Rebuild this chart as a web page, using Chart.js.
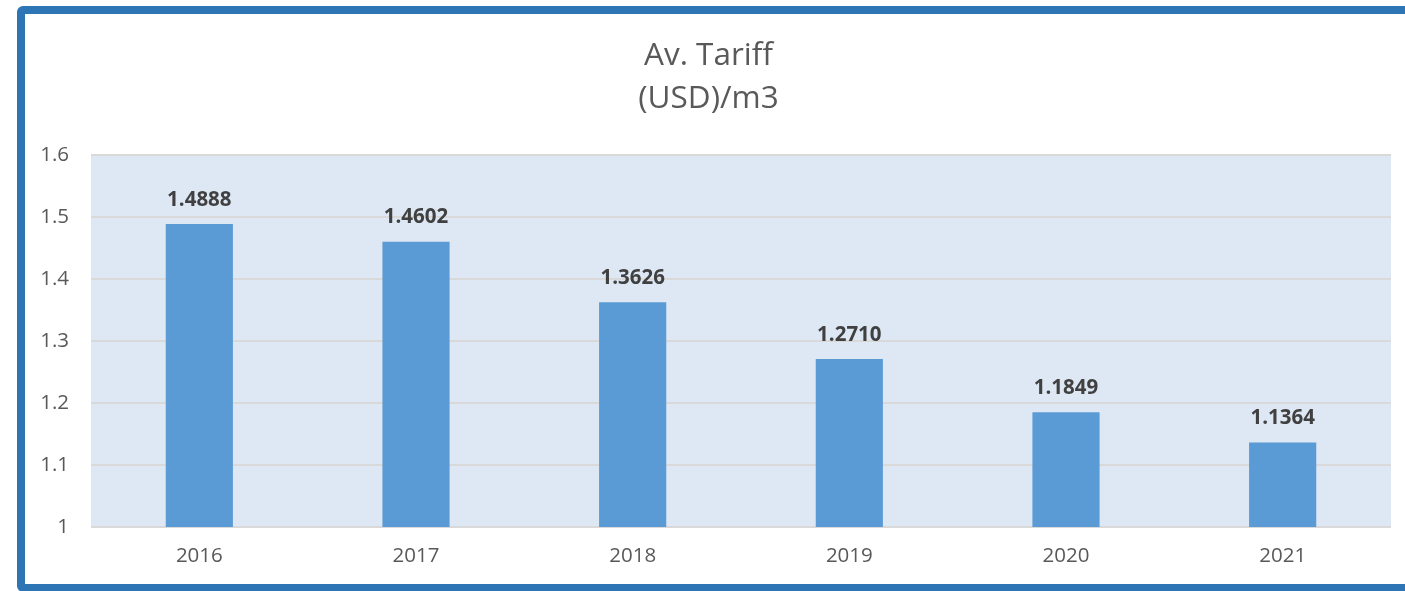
<!DOCTYPE html>
<html>
<head>
<meta charset="utf-8">
<script src="https://cdn.jsdelivr.net/npm/chart.js@4.4.0/dist/chart.umd.min.js"></script>
<style>
    html, body { margin: 0; padding: 0; background: #fff; overflow: hidden; }
    .frame {
        position: absolute; left: 17px; top: 6px;
        width: 1500px; height: 586px;
        box-sizing: border-box;
        border: 8px solid #2e75b6;
        border-radius: 6px;
    }
    .chart-box { position: absolute; left: 0; top: 0; width: 1440px; height: 591px; }
</style>
</head>
<body>
<div class="frame"></div>
<div class="chart-box"><canvas id="tariff_chart"></canvas></div>
<script>
const years = ['2016', '2017', '2018', '2019', '2020', '2021'];
const tariff = [1.4888, 1.4602, 1.3626, 1.2710, 1.1849, 1.1364];
const titleLines = ['Av. Tariff', '(USD)/m3'];

let colors = {
    'bar': '#5b9bd5',
    'plot_bg': '#dde8f4',
    'grid': '#d9d9d9',
    'text': '#595959',
    'label': '#404040',
}

const plotBackground = {
    id: 'plotBackground',
    beforeDraw(chart) {
        const { ctx, chartArea: a } = chart;
        ctx.save();
        ctx.fillStyle = colors.plot_bg;
        ctx.fillRect(a.left, a.top, a.right - a.left, a.bottom - a.top);
        ctx.restore();
    }
}

const valueLabels = {
    id: 'valueLabels',
    afterDatasetsDraw(chart) {
        const { ctx } = chart;
        const meta = chart.getDatasetMeta(0);
        ctx.save();
        ctx.font = 'bold 20.5px "Open Sans"';
        ctx.fillStyle = colors.label;
        ctx.textAlign = 'center';
        ctx.textBaseline = 'middle';
        meta.data.forEach((bar, i) => {
            ctx.fillText(tariff[i].toFixed(4), bar.x, bar.y - 24);
        });
        ctx.restore();
    }
}

new Chart(document.getElementById('tariff_chart'), {
    type: 'bar',
    data: {
        labels: years,
        datasets: [{
            label: 'Av. Tariff',
            data: tariff,
            backgroundColor: colors.bar,
            borderWidth: 0,
            barPercentage: 0.31,
            categoryPercentage: 1,
        }]
    },
    plugins: [plotBackground, valueLabels],
    options: {
        responsive: true,
        maintainAspectRatio: false,
        animation: false,
        layout: {
            padding: { left: 26, right: 49, top: 0, bottom: 0 }
        },
        scales: {
            x: {
                grid: { display: false, drawTicks: false },
                border: { display: false },
                ticks: {
                    padding: 17,
                    color: colors.text,
                    font: { size: 20.5, family: 'Open Sans' }
                },
                afterFit(scale) { scale.height = 64; }
            },
            y: {
                min: 1,
                max: 1.6,
                grid: { color: colors.grid, lineWidth: 2, drawTicks: false },
                border: { display: false },
                ticks: {
                    stepSize: 0.1,
                    padding: 22,
                    color: colors.text,
                    font: { size: 20.5, family: 'Open Sans' },
                    callback: (v) => Math.round(v * 10) / 10
                },
                afterFit(scale) { scale.width = 65; }
            }
        },
        plugins: {
            legend: { display: false },
            tooltip: { enabled: false },
            title: {
                display: true,
                text: titleLines,
                color: colors.text,
                font: { size: 31.5, family: 'Open Sans', weight: 'normal', lineHeight: 1.38 },
                padding: { top: 34, bottom: 34 }
            }
        }
    }
});
</script>
</body>
</html>
